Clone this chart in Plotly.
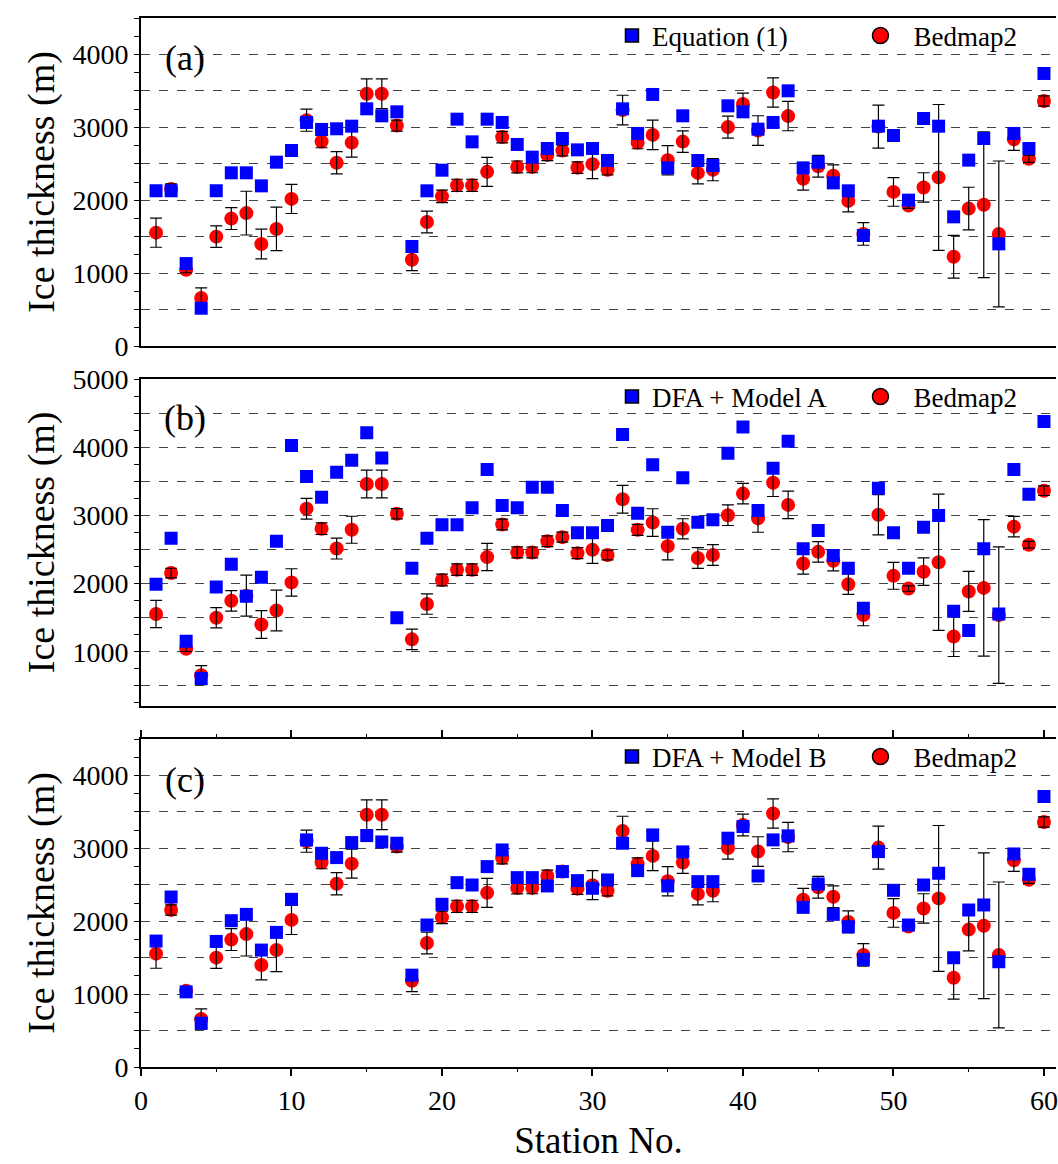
import plotly.graph_objects as go

stations = list(range(1, 61))

bedmap2 = [1555, 2155, 1045, 658, 1500, 1748, 1823, 1400, 1606, 2018,
           3098, 2805, 2514, 2790, 3461, 3461, 3024, 1183, 1701, 2053,
           2204, 2204, 2389, 2866, 2457, 2457, 2622, 2681, 2447, 2495,
           2419, 3237, 2788, 2896, 2549, 2804, 2375, 2419, 3003, 3320,
           2956, 3478, 3154, 2294, 2466, 2336, 1991, 1538, 3010, 2114,
           1928, 2175, 2313, 1224, 1885, 1937, 1538, 2835, 2570, 3362]

bedmap2_err = [200, 70, 40, 140, 148, 150, 300, 204, 298, 200,
               152, 85, 153, 198, 203, 203, 75, 150, 150, 85,
               84, 84, 200, 79, 81, 80, 79, 73, 80, 199,
               70, 203, 82, 202, 200, 147, 152, 152, 151, 150,
               203, 201, 201, 156, 150, 150, 150, 156, 295, 197,
               40, 202, 1000, 293, 293, 1000, 1000, 150, 50, 70]

equation1 = [2130, 2130, 1131, 518, 2130, 2376, 2376, 2197, 2522, 2682,
             3067, 2971, 2980, 3016, 3254, 3158, 3213, 1365, 2129, 2412,
             3112, 2801, 3112, 3067, 2765, 2591, 2710, 2847, 2691, 2710,
             2545, 3254, 2916, 3451, 2444, 3158, 2545, 2476, 3295, 3213,
             2975, 3067, 3501, 2444, 2522, 2238, 2129, 1516, 3016, 2888,
             2001, 3121, 3016, 1772, 2550, 2847, 1401, 2916, 2710, 3739]

dfa_model_a = [1991, 2666, 1155, 608, 1952, 2285, 1815, 2094, 2622, 4026,
               3571, 3268, 3634, 3810, 4212, 3840, 1498, 2226, 2666, 2862,
               2862, 3111, 3674, 3145, 3111, 3414, 3414, 3072, 2745, 2745,
               2852, 4187, 3033, 3742, 2754, 3551, 2901, 2935, 3913, 4295,
               3072, 3693, 4089, 2510, 2779, 2412, 2226, 1639, 3400, 2745,
               2226, 2828, 2999, 1595, 1312, 2510, 1556, 3674, 3312, 4378]

dfa_model_b = [1728, 2332, 1031, 601, 1723, 2007, 2094, 1604, 1847, 2300,
               3116, 2932, 2873, 3079, 3175, 3088, 3070, 1260, 1948, 2232,
               2529, 2497, 2749, 2978, 2598, 2598, 2484, 2681, 2557, 2452,
               2566, 3070, 2694, 3184, 2484, 2951, 2543, 2543, 3139, 3299,
               2621, 3116, 3171, 2190, 2511, 2094, 1925, 1476, 2955, 2424,
               1948, 2497, 2658, 1499, 2154, 2223, 1444, 2923, 2644, 3711]

panel_labels = ["(a)", "(b)", "(c)"]
model_names = ["Equation (1)", "DFA + Model A", "DFA + Model B"]
model_series = [equation1, dfa_model_a, dfa_model_b]
y_ranges = [[0, 4500], [210, 5000], [0, 4500]]
x_tick_vals = [0, 10, 20, 30, 40, 50, 60]

FONT = "Liberation Serif"
W, H = 1058, 1164
ML, MR, MT, MB = 141, 0, 18, 97
PH = H - MT - MB  # 1049
PW = W - ML - MR

# pixel extents of each panel (top, bottom)
panel_px = [(18, 346), (379, 705.7), (739, 1067)]


def ydom(top, bot):
    return [(H - MB - bot) / PH, (H - MB - top) / PH]


fig = go.Figure()

for i in range(3):
    n = "" if i == 0 else str(i + 1)
    xa = "x" + n
    ya = "y" + n
    # Bedmap2 circles
    fig.add_trace(go.Scatter(
        x=stations, y=bedmap2, mode="markers", xaxis=xa, yaxis=ya,
        marker=dict(symbol="circle", size=14, color="#ff0000"),
        showlegend=False, hoverinfo="skip"))
    # Bedmap2 error bars (drawn above the circles)
    fig.add_trace(go.Scatter(
        x=stations, y=bedmap2, mode="markers", xaxis=xa, yaxis=ya,
        marker=dict(size=1, color="rgba(0,0,0,0)"),
        error_y=dict(type="data", array=bedmap2_err, visible=True,
                     color="#000000", thickness=1.2, width=6),
        showlegend=False, hoverinfo="skip"))
    # model squares
    fig.add_trace(go.Scatter(
        x=stations, y=model_series[i], mode="markers", xaxis=xa, yaxis=ya,
        marker=dict(symbol="square", size=13, color="#0000ff"),
        showlegend=False, hoverinfo="skip"))
    # legend entries
    lg1 = "legend" if i == 0 else "legend" + str(2 * i + 1)
    lg2 = "legend" + str(2 * i + 2)
    fig.add_trace(go.Scatter(
        x=[None], y=[None], mode="markers", xaxis=xa, yaxis=ya,
        marker=dict(symbol="square", size=13, color="#0000ff",
                    line=dict(color="black", width=1.5)),
        name=model_names[i], legend=lg1, showlegend=True))
    fig.add_trace(go.Scatter(
        x=[None], y=[None], mode="markers", xaxis=xa, yaxis=ya,
        marker=dict(symbol="circle", size=20, color="#ff0000",
                    line=dict(color="black", width=1.5)),
        name="Bedmap2", legend=lg2, showlegend=True))

layout = dict(
    width=W, height=H,
    margin=dict(l=ML, r=MR, t=MT, b=MB, pad=0),
    paper_bgcolor="white", plot_bgcolor="white",
    font=dict(family=FONT, size=28, color="black"),
)

legend_y_px = [36, 397, 757]
for i in range(3):
    n = "" if i == 0 else str(i + 1)
    top, bot = panel_px[i]
    is_bottom = (i == 2)
    xaxis = dict(
        domain=[0, 1], anchor="y" + n, range=[0, 60.8],
        showline=True, linecolor="black", linewidth=2,
        mirror="ticks" if is_bottom else True,
        showgrid=False, zeroline=False,
        tickmode="array", tickvals=x_tick_vals,
        ticks="outside" if is_bottom else "",
        ticklen=7, tickwidth=1.5, tickcolor="black",
        showticklabels=is_bottom, ticklabeloverflow="allow",
        tickfont=dict(family=FONT, size=28),
    )
    if is_bottom:
        xaxis["minor"] = dict(tickmode="linear", tick0=0, dtick=5,
                              ticks="outside", ticklen=3, tickwidth=1.2,
                              tickcolor="black", showgrid=False)
        xaxis["title"] = dict(text="Station No.",
                              font=dict(family=FONT, size=37), standoff=13)
    yr = y_ranges[i]
    tv = list(range(0, yr[1] + 1, 500))
    tt = [str(v) if v % 1000 == 0 else "" for v in tv]
    yaxis = dict(
        domain=ydom(top, bot), anchor="x" + n, range=yr,
        showline=True, linecolor="black", linewidth=2, mirror=False,
        zeroline=False,
        tickmode="array", tickvals=tv, ticktext=tt,
        ticks="outside", ticklen=5, tickwidth=1.2, tickcolor="black",
        showgrid=True, gridcolor="#444444", gridwidth=1, griddash="dash",
        tickfont=dict(family=FONT, size=28),
        minor=dict(tickmode="linear", tick0=0, dtick=250, ticks="outside",
                   ticklen=5, tickwidth=1.2, tickcolor="black",
                   showgrid=False),
        title=dict(text="Ice thickness (m)",
                   font=dict(family=FONT, size=38), standoff=6),
    )
    layout["xaxis" + n] = xaxis
    layout["yaxis" + n] = yaxis

    ly = (H - MB - legend_y_px[i]) / PH
    lg1 = "legend" if i == 0 else "legend" + str(2 * i + 1)
    lg2 = "legend" + str(2 * i + 2)
    layout[lg1] = dict(x=(633 - 20 - ML) / PW, xanchor="left", y=ly,
                       yanchor="middle", bgcolor="rgba(0,0,0,0)",
                       borderwidth=0, itemwidth=30,
                       font=dict(family=FONT, size=27))
    layout[lg2] = dict(x=(882 - 33 - ML) / PW, xanchor="left", y=ly,
                       yanchor="middle", bgcolor="rgba(0,0,0,0)",
                       borderwidth=0, itemwidth=56,
                       font=dict(family=FONT, size=27))

fig.update_layout(**layout)

label_y = [0.878, 0.881, 0.875]
for i in range(3):
    n = "" if i == 0 else str(i + 1)
    fig.add_annotation(text=panel_labels[i], xref="x" + n + " domain",
                       yref="y" + n + " domain", x=(185 - ML) / PW,
                       y=label_y[i], xanchor="center", yanchor="middle",
                       showarrow=False, font=dict(family=FONT, size=36))

fig.write_html("out.html")
